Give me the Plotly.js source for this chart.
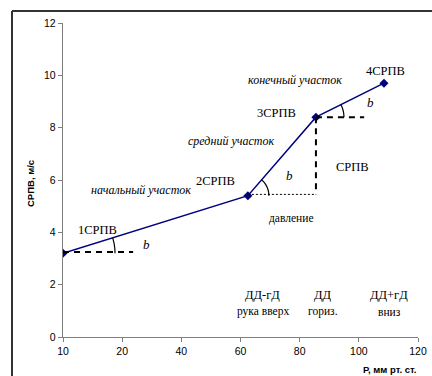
<!DOCTYPE html>
<html>
<head>
<meta charset="utf-8">
<script src="https://cdn.plot.ly/plotly-3.0.1.min.js"></script>
<style>html,body{margin:0;padding:0;background:#fff;}#chart{width:432px;height:376px;}</style>
</head>
<body>
<div id="chart"></div>
<script>
// ---- data ----
var pressure = [0, 62.5, 85.5, 108.5];
var speed = [3.2, 5.4, 8.4, 9.7];
var pointLabels = ["1СРПВ", "2СРПВ", "3СРПВ", "4СРПВ"];
var segmentLabels = ["начальный участок", "средний участок", "конечный участок"];
var xTickVals = [0, 20, 40, 60, 80, 100, 120];
var xTickText = ["10", "20", "40", "60", "80", "100", "120"];
var yTickVals = [0, 2, 4, 6, 8, 10, 12];
var positionTop = ["ДД-гД", "ДД", "ДД+гД"];
var positionBottom = ["рука вверх", "гориз.", "вниз"];
var angleLabel = "b";
var sideLabels = ["СРПВ", "давление"];
var xTitle = "Р, мм рт. ст.";
var yTitle = "СРПВ, м/с";

// ---- layout geometry ----
var W = 432, H = 376;
var M = {l: 63, r: 14, t: 23, b: 39};
var xr = [0, 120], yr = [0, 12];
var PW = W - M.l - M.r, PH = H - M.t - M.b;
var pxX = PW / (xr[1] - xr[0]);
var pxY = PH / (yr[1] - yr[0]);
function px2paperX(p) { return (p - M.l) / PW; }
function px2paperY(p) { return (H - M.b - p) / PH; }

var serif = "Liberation Serif, Times New Roman, serif";
var sans = "Liberation Sans, Arial, sans-serif";
var navy = "#000080";

function arcPath(i, j, rpx) {
  var dx = (pressure[j] - pressure[i]) * pxX;
  var dy = (speed[j] - speed[i]) * pxY;
  var a = Math.atan2(dy, dx);
  var n = 12, p = "";
  for (var k = 0; k <= n; k++) {
    var t = a * k / n;
    var x = pressure[i] + rpx * Math.cos(t) / pxX;
    var y = speed[i] + rpx * Math.sin(t) / pxY;
    p += (k === 0 ? "M" : " L") + x.toFixed(3) + "," + y.toFixed(3);
  }
  return p;
}

var traces = [{
  x: pressure, y: speed, type: "scatter", mode: "lines+markers",
  line: {color: navy, width: 1.5},
  marker: {symbol: "diamond", size: 7, color: navy},
  hoverinfo: "skip"
}];

var frameLine = {color: "#333333", width: 2};
var shapes = [
  // outer frame (top and left edges; the rest lies outside the picture)
  {type: "line", xref: "paper", yref: "paper",
   x0: px2paperX(12), x1: px2paperX(W), y0: px2paperY(11), y1: px2paperY(11), line: frameLine},
  {type: "line", xref: "paper", yref: "paper",
   x0: px2paperX(12), x1: px2paperX(12), y0: px2paperY(11), y1: px2paperY(H), line: frameLine},
  // dashed horizontal at point 1
  {type: "line", x0: pressure[0], x1: 23.7, y0: speed[0] + 0.05, y1: speed[0] + 0.05,
   line: {color: "#000", width: 2, dash: "6px,5px"}},
  // dotted horizontal at point 2
  {type: "line", x0: pressure[1], x1: pressure[2], y0: speed[1] + 0.05, y1: speed[1] + 0.05,
   line: {color: "#000", width: 1, dash: "2px,2px"}},
  // dashed vertical from point 3
  {type: "line", x0: pressure[2], x1: pressure[2], y0: speed[2], y1: speed[1] + 0.05,
   line: {color: "#000", width: 2, dash: "6px,5px"}},
  // dashed horizontal at point 3
  {type: "line", x0: pressure[2], x1: 101.8, y0: speed[2], y1: speed[2],
   line: {color: "#000", width: 2, dash: "6px,5px"}},
  // angle arcs
  {type: "path", path: arcPath(0, 1, 52), line: {color: "#000", width: 1.2}},
  {type: "path", path: arcPath(1, 2, 21), line: {color: "#000", width: 1.2}},
  {type: "path", path: arcPath(2, 3, 28), line: {color: "#000", width: 1.2}}
];

function ann(text, x, y, opts) {
  var a = {text: text, x: x, y: y, xref: "x", yref: "y", showarrow: false,
           font: {family: serif, size: 12.5, color: "#000"}};
  for (var k in opts) a[k] = opts[k];
  return a;
}
var italic = {family: serif, size: 12, color: "#000", style: "italic"};
var bI = {family: serif, size: 13, color: "#000", style: "italic"};
var small = {family: serif, size: 11.5, color: "#000"};

var annotations = [
  ann(pointLabels[0], 11.5, 4.09),
  ann(pointLabels[1], 51.7, 5.96),
  ann(pointLabels[2], 72.3, 8.56),
  ann(pointLabels[3], 108.9, 10.16),
  ann(segmentLabels[0], 26.4, 5.62, {font: italic}),
  ann(segmentLabels[1], 56.8, 7.49, {font: italic}),
  ann(segmentLabels[2], 78.4, 9.82, {font: italic}),
  ann(angleLabel, 28.1, 3.55, {font: bI}),
  ann(angleLabel, 76.7, 6.18, {font: bI}),
  ann(angleLabel, 104.1, 8.97, {font: bI}),
  ann(sideLabels[0], 98.0, 6.5),
  ann(sideLabels[1], 77.4, 4.51, {font: small}),
  ann(positionTop[0], 67.6, 1.6),
  ann(positionTop[1], 87.9, 1.6),
  ann(positionTop[2], 110.2, 1.6),
  ann(positionBottom[0], 67.6, 0.96, {font: small}),
  ann(positionBottom[1], 87.9, 0.96, {font: small}),
  ann(positionBottom[2], 110.2, 0.96, {font: small}),
  {text: "<b>" + xTitle + "</b>", xref: "paper", yref: "paper", x: px2paperX(419), y: px2paperY(369),
   xanchor: "right", yanchor: "middle", showarrow: false,
   font: {family: sans, size: 9.5, color: "#000"}},
  {text: "<b>" + yTitle + "</b>", xref: "paper", yref: "paper",
   x: px2paperX(30), y: px2paperY(184),
   textangle: -90, showarrow: false, xanchor: "center", yanchor: "middle",
   font: {family: sans, size: 9.5, color: "#000"}}
];

var layout = {
  width: W, height: H,
  margin: M,
  paper_bgcolor: "#fff", plot_bgcolor: "#fff",
  showlegend: false,
  xaxis: {range: xr, tickvals: xTickVals, ticktext: xTickText,
          showgrid: false, zeroline: false, showline: true, linecolor: "#808080", linewidth: 1.2,
          ticks: "outside", ticklen: 4, tickcolor: "#808080",
          tickfont: {family: sans, size: 10.5, color: "#000"}},
  yaxis: {range: yr, tickvals: yTickVals,
          showgrid: false, zeroline: false, showline: true, linecolor: "#808080", linewidth: 1.2,
          ticks: "outside", ticklen: 4, tickcolor: "#808080",
          tickfont: {family: sans, size: 10.5, color: "#000"}},
  shapes: shapes,
  annotations: annotations
};

Plotly.newPlot("chart", traces, layout, {staticPlot: true, displayModeBar: false});
</script>
</body>
</html>
